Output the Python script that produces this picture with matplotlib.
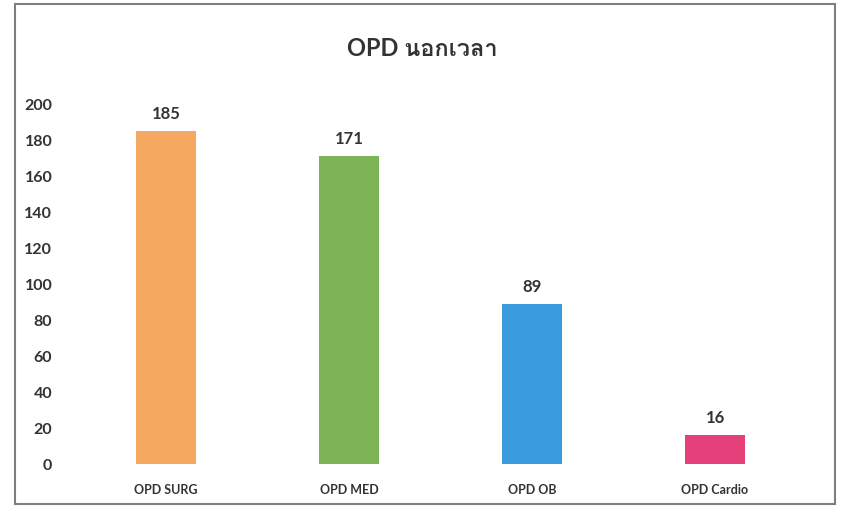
import matplotlib
matplotlib.use("Agg")
import matplotlib.pyplot as plt
from matplotlib import font_manager
from matplotlib.ft2font import FT2Font
from matplotlib.patches import Rectangle

categories = ["OPD SURG", "OPD MED", "OPD OB", "OPD Cardio"]
values = [185, 171, 89, 16]
colors = ["#F4A860", "#7DB455", "#3A9BDC", "#E5407A"]
yticks = [0, 20, 40, 60, 80, 100, 120, 140, 160, 180, 200]
title = "OPD นอกเวลา"


def thai_family():
    # look for any installed font that has Thai glyphs
    for f in font_manager.fontManager.ttflist:
        try:
            if 0x0E19 in FT2Font(f.fname).get_charmap():
                return f.name
        except Exception:
            pass
    return None


base = "Lato"
families = [base, "DejaVu Sans"]
th = thai_family()
if th:
    families = [base, th, "DejaVu Sans"]
plt.rcParams["font.family"] = families

fig = plt.figure(figsize=(8.44, 5.10), dpi=100)
ax = fig.add_axes([74.5 / 844, 45 / 510, 732 / 844, 360 / 510])

x = range(len(categories))
bars = ax.bar(x, values, width=0.33, color=colors)
for b, v in zip(bars, values):
    ax.annotate(str(v), (b.get_x() + b.get_width() / 2, v), xytext=(0, 7),
                textcoords="offset points", ha="center", va="bottom",
                fontsize=12, fontweight="bold", color="#333333")

ax.set_xlim(-0.5, len(categories) - 0.5)
ax.set_ylim(0, 200)
ax.set_yticks(yticks)
ax.set_xticks(list(x))
ax.set_xticklabels(categories)
ax.tick_params(axis="y", length=0, pad=16, labelsize=11.5, labelcolor="#333333")
ax.tick_params(axis="x", length=0, pad=14, labelsize=9, labelcolor="#333333")
for lab in ax.get_xticklabels() + ax.get_yticklabels():
    lab.set_fontweight("bold")
for s in ax.spines.values():
    s.set_visible(False)

fig.text(0.5, 462 / 510, title, ha="center", va="center", fontsize=17,
         fontweight="bold", color="#333333")

fig.patches.append(Rectangle((15 / 844, 5 / 510), 820 / 844, 500 / 510,
                             transform=fig.transFigure, fill=False,
                             edgecolor="#7f7f7f", linewidth=1.5))

fig.savefig("out.png", dpi=100)
